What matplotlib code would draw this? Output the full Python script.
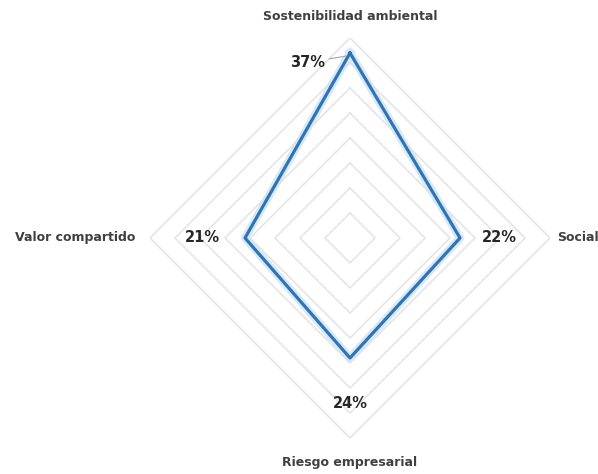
import numpy as np
import matplotlib.pyplot as plt

categories = ['Sostenibilidad ambiental', 'Social', 'Riesgo empresarial', 'Valor compartido']
values = [37, 22, 24, 21]
value_labels = ['37%', '22%', '24%', '21%']
rings = [5, 10, 15, 20, 25, 30, 35, 40]

fig = plt.figure(figsize=(5.98, 4.74), dpi=100)
ax = fig.add_axes([0.2508, 0.076, 0.669, 0.8439], polar=True)
ax.set_theta_offset(np.pi / 2)
ax.set_theta_direction(-1)

angles = np.linspace(0, 2 * np.pi, len(categories), endpoint=False)
closed = np.append(angles, angles[0])

# diamond shaped grid
for r in rings:
    ax.plot(closed, [r] * len(closed), color='#e3e3e3', lw=1.1, zorder=1)

vals = values + values[:1]
ax.plot(closed, vals, color='#cfe3f5', lw=6, alpha=0.8, zorder=2)
ax.plot(closed, vals, color='#2e75b6', lw=2.3, zorder=3)

ax.set_ylim(0, 40)
ax.set_xticks([])
ax.set_yticks([])
ax.grid(False)
ax.spines['polar'].set_visible(False)
ax.set_facecolor('none')

# category labels
fs = 9
ax.text(angles[0], 44.3, categories[0], ha='center', va='center', fontsize=fs,
        fontweight='bold', color='#404040', clip_on=False)
ax.text(angles[1], 41.4, categories[1], ha='left', va='center', fontsize=fs,
        fontweight='bold', color='#404040', clip_on=False)
ax.text(angles[2], 45, categories[2], ha='center', va='center', fontsize=fs,
        fontweight='bold', color='#404040', clip_on=False)
ax.text(angles[3], 43, categories[3], ha='right', va='center', fontsize=fs,
        fontweight='bold', color='#404040', clip_on=False)

# value labels
vfs = 10.5
ax.annotate(value_labels[0], xy=(angles[0], values[0] - 0.5), xytext=(-18, -5),
            textcoords='offset points', ha='right', va='center', fontsize=vfs,
            fontweight='bold', color='#262626',
            arrowprops=dict(arrowstyle='-', color='#a6a6a6', lw=0.8, shrinkA=1, shrinkB=3))
ax.text(angles[1], 29.8, value_labels[1], ha='center', va='center', fontsize=vfs,
        fontweight='bold', color='#262626')
ax.text(angles[2], 33.2, value_labels[2], ha='center', va='center', fontsize=vfs,
        fontweight='bold', color='#262626')
ax.text(angles[3], 29.6, value_labels[3], ha='center', va='center', fontsize=vfs,
        fontweight='bold', color='#262626')

plt.savefig('out.png', dpi=100)
